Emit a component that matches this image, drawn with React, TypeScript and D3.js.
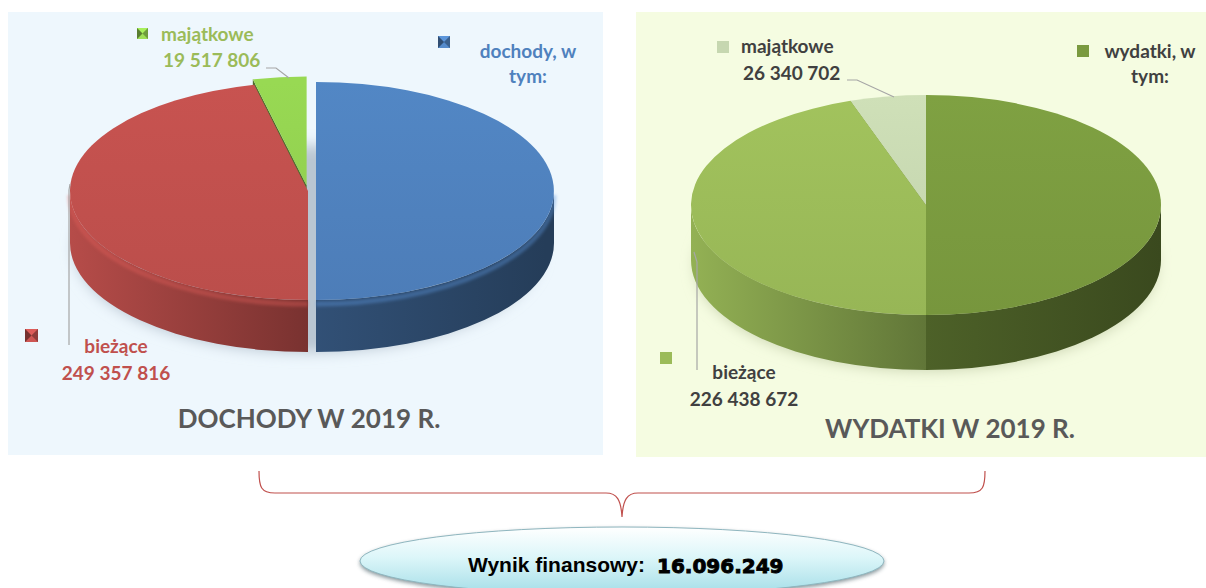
import * as d3 from "d3";

const incomeLabels = ["dochody, w tym:", "bieżące", "majątkowe"];
const incomeValues = [268875622, 249357816, 19517806];
const incomeColors = ["#4f81bd", "#c0504d", "#92d050"];

const expenseLabels = ["wydatki, w tym:", "bieżące", "majątkowe"];
const expenseValues = [252779374, 226438672, 26340702];
const expenseColors = ["#7a9a3f", "#9bbb59", "#c6d7b0"];

const titles = ["DOCHODY W 2019 R.", "WYDATKI W 2019 R."];
const resultLabel = "Wynik finansowy:";
const resultValue = "16.096.249";

const fmt = d3
  .formatLocale({ decimal: ",", thousands: " ", grouping: [3], currency: ["", ""] })
  .format(",d");

const FONT = "Lato, 'Open Sans', sans-serif";

type PieProps = {
  id: string;
  cx: number;
  cy: number;
  rx: number;
  ry: number;
  depth: number;
  values: number[];
  colors: string[];
  explode: number[];
  shadow: string;
  rimHighlight: boolean;
};

function Pie3D({ id, cx, cy, rx, ry, depth, values, colors, explode, shadow, rimHighlight }: PieProps) {
  const arcs = d3.pie<number>().sort(null)(values);
  const k = ry / rx;

  const slices = arcs.map((a, i) => {
    const mid = (a.startAngle + a.endAngle) / 2;
    const ox = explode[i] * Math.sin(mid);
    const oy = -explode[i] * Math.cos(mid) * k;
    const c = cx + ox;
    const m = cy + oy;
    const pt = (t: number, dy = 0) => [c + rx * Math.sin(t), m - ry * Math.cos(t) + dy];
    const a0 = a.startAngle;
    const a1 = a.endAngle;
    const large = a1 - a0 > Math.PI ? 1 : 0;
    const [x0, y0] = pt(a0);
    const [x1, y1] = pt(a1);
    const top = `M${c},${m}L${x0},${y0}A${rx},${ry} 0 ${large} 1 ${x1},${y1}Z`;

    let wall = "";
    let rim = "";
    const s = Math.max(a0, Math.PI / 2);
    const e = Math.min(a1, (3 * Math.PI) / 2);
    if (e > s) {
      const [sx, sy] = pt(s);
      const [ex, ey] = pt(e);
      wall = `M${sx},${sy}A${rx},${ry} 0 0 1 ${ex},${ey}L${ex},${ey + depth}A${rx},${ry} 0 0 0 ${sx},${sy + depth}Z`;
      rim = `M${sx},${sy}A${rx},${ry} 0 0 1 ${ex},${ey}`;
    }

    // radial cut faces that turn towards the viewer
    const cuts: string[] = [];
    const edges = [
      [a0, a0 - Math.PI / 2],
      [a1, a1 + Math.PI / 2],
    ];
    edges.forEach(([t, n]) => {
      if (Math.cos(n) < -1e-6) {
        const [px, py] = pt(t);
        cuts.push(`M${c},${m}L${px},${py}L${px},${py + depth}L${c},${m + depth}Z`);
      }
    });

    return { i, mid, top, wall, rim, cuts, color: colors[i] };
  });

  const order = [...slices].sort((p, q) => -Math.cos(p.mid) - -Math.cos(q.mid));

  return (
    <g>
      <defs>
        <filter id={`${id}-blur`} x="-20%" y="-50%" width="140%" height="200%">
          <feGaussianBlur stdDeviation="7" />
        </filter>
        <filter id={`${id}-soft`} x="-5%" y="-20%" width="110%" height="140%">
          <feGaussianBlur stdDeviation="1.5" />
        </filter>
        {slices.map((sl) => (
          <linearGradient
            key={`sg${sl.i}`}
            id={`${id}-side-${sl.i}`}
            gradientUnits="userSpaceOnUse"
            x1={cx - rx}
            x2={cx + rx}
            y1={0}
            y2={0}
          >
            <stop offset="0" stopColor={d3.color(sl.color)!.darker(0.15).formatHex()} />
            <stop offset="0.5" stopColor={d3.color(sl.color)!.darker(1.3).formatHex()} />
            <stop offset="1" stopColor={d3.color(sl.color)!.darker(2.1).formatHex()} />
          </linearGradient>
        ))}
        {slices.map((sl) => (
          <linearGradient
            key={`tg${sl.i}`}
            id={`${id}-top-${sl.i}`}
            gradientUnits="userSpaceOnUse"
            x1={0}
            x2={0}
            y1={cy - ry}
            y2={cy + ry}
          >
            <stop offset="0" stopColor={d3.color(sl.color)!.brighter(0.12).formatHex()} />
            <stop offset="1" stopColor={d3.color(sl.color)!.darker(0.08).formatHex()} />
          </linearGradient>
        ))}
      </defs>
      <ellipse
        cx={cx}
        cy={cy + depth + 6}
        rx={rx * 0.98}
        ry={ry * 0.95}
        fill={shadow}
        filter={`url(#${id}-blur)`}
      />
      {order.map((sl) => (
        <g key={`side${sl.i}`}>
          {sl.cuts.map((d, j) => (
            <path key={j} d={d} fill={d3.color(sl.color)!.darker(1.8).formatHex()} />
          ))}
          {sl.wall && <path d={sl.wall} fill={`url(#${id}-side-${sl.i})`} />}
          {sl.rim && rimHighlight && (
            <path
              d={sl.rim}
              fill="none"
              stroke={d3.color(sl.color)!.brighter(0.45).formatHex()}
              strokeWidth={5}
              opacity={0.4}
              filter={`url(#${id}-soft)`}
              transform="translate(0,4)"
            />
          )}
        </g>
      ))}
      {order.map((sl) => (
        <path key={`top${sl.i}`} d={sl.top} fill={`url(#${id}-top-${sl.i})`} />
      ))}
    </g>
  );
}

function BevelMarker({ x, y, size, color }: { x: number; y: number; size: number; color: string }) {
  const c = d3.color(color)!;
  const cxm = x + size / 2;
  const cym = y + size / 2;
  return (
    <g>
      <rect x={x} y={y} width={size} height={size} fill={c.formatHex()} />
      <path d={`M${x},${y}L${x + size},${y}L${cxm},${cym}Z`} fill={c.brighter(0.4).formatHex()} />
      <path d={`M${x},${y + size}L${x + size},${y + size}L${cxm},${cym}Z`} fill={c.brighter(0.2).formatHex()} />
      <path d={`M${x},${y}L${x},${y + size}L${cxm},${cym}Z`} fill={c.darker(1.4).formatHex()} />
      <path d={`M${x + size},${y}L${x + size},${y + size}L${cxm},${cym}Z`} fill={c.darker(0.8).formatHex()} />
    </g>
  );
}

function FlatMarker({ x, y, size, color }: { x: number; y: number; size: number; color: string }) {
  return <rect x={x} y={y} width={size} height={size} fill={color} />;
}

export default function App() {
  const [incTotal, incCur, incProp] = incomeLabels;
  const [expTotal, expCur, expProp] = expenseLabels;
  const incTotalWords = incTotal.replace(" tym:", "");
  const expTotalWords = expTotal.replace(" tym:", "");
  const labelStyle = { fontFamily: FONT, fontWeight: 700, fontSize: 19 } as const;

  return (
    <svg
      width={1206}
      height={588}
      viewBox="0 0 1206 588"
      style={{ position: "absolute", left: 0, top: 0, background: "#fff" }}
    >
      <defs>
        <linearGradient id="res-grad" x1="0" x2="0" y1="0" y2="1">
          <stop offset="0" stopColor="#ffffff" />
          <stop offset="0.45" stopColor="#dcf6f9" />
          <stop offset="1" stopColor="#a3dde7" />
        </linearGradient>
        <filter id="res-blur" x="-10%" y="-50%" width="120%" height="200%">
          <feGaussianBlur stdDeviation="2" />
        </filter>
      </defs>

      {/* panels */}
      <rect x={8} y={12} width={595} height={443} fill="#eef7fd" />
      <rect x={636} y={12} width={570} height={445} fill="#f5fce1" />

      {/* income pie */}
      <Pie3D
        id="inc"
        cx={308}
        cy={191}
        rx={238}
        ry={109}
        depth={52}
        values={incomeValues}
        colors={incomeColors}
        explode={[8, 0, 12]}
        shadow="#b9c6d2"
        rimHighlight={true}
      />
      <BevelMarker x={137} y={28} size={11} color={incomeColors[2]} />
      <text x={161} y={41} fill="#9bbb59" {...labelStyle}>{incProp}</text>
      <text x={163} y={67} fill="#9bbb59" {...labelStyle}>{fmt(incomeValues[2])}</text>
      <path d="M266,68L276,68L289,78" fill="none" stroke="#a6a6a6" strokeWidth={1.2} />

      <BevelMarker x={438} y={36} size={12} color={incomeColors[0]} />
      <text x={528} y={58} textAnchor="middle" fill="#4f81bd" {...labelStyle}>{incTotalWords}</text>
      <text x={528} y={83} textAnchor="middle" fill="#4f81bd" {...labelStyle}>tym:</text>

      <BevelMarker x={25} y={329} size={13} color={incomeColors[1]} />
      <path d="M70,184L69,190L69,345" fill="none" stroke="#a6a6a6" strokeWidth={1.2} />
      <text x={116} y={353} textAnchor="middle" fill="#c0504d" {...labelStyle}>{incCur}</text>
      <text x={116} y={380} textAnchor="middle" fill="#c0504d" {...labelStyle}>{fmt(incomeValues[1])}</text>

      <text x={309} y={428} textAnchor="middle" fill="#595959" fontFamily={FONT} fontWeight={700} fontSize={26}>
        {titles[0]}
      </text>

      {/* expense pie */}
      <Pie3D
        id="exp"
        cx={926}
        cy={205}
        rx={235}
        ry={110}
        depth={55}
        values={expenseValues}
        colors={expenseColors}
        explode={[0, 0, 0]}
        shadow="#c9d3b0"
        rimHighlight={false}
      />
      <FlatMarker x={717} y={41} size={12} color={expenseColors[2]} />
      <text x={741} y={53} fill="#404040" {...labelStyle}>{expProp}</text>
      <text x={743} y={80} fill="#404040" {...labelStyle}>{fmt(expenseValues[2])}</text>
      <path d="M847,80L857,80L894,97" fill="none" stroke="#a6a6a6" strokeWidth={1.2} />

      <FlatMarker x={1077} y={45} size={12} color={expenseColors[0]} />
      <text x={1150} y={58} textAnchor="middle" fill="#404040" {...labelStyle}>{expTotalWords}</text>
      <text x={1150} y={83} textAnchor="middle" fill="#404040" {...labelStyle}>tym:</text>

      <FlatMarker x={660} y={352} size={12} color={expenseColors[1]} />
      <path d="M694,252L697,262L697,370" fill="none" stroke="#a6a6a6" strokeWidth={1.2} />
      <text x={744} y={379} textAnchor="middle" fill="#404040" {...labelStyle}>{expCur}</text>
      <text x={744} y={406} textAnchor="middle" fill="#404040" {...labelStyle}>{fmt(expenseValues[1])}</text>

      <text x={950} y={438} textAnchor="middle" fill="#595959" fontFamily={FONT} fontWeight={700} fontSize={26}>
        {titles[1]}
      </text>

      {/* brace */}
      <path
        d="M259,471C259,487 261,493 275,493L606,493C617,493 621,500 622,517C623,500 627,493 638,493L969,493C983,493 985,487 985,471"
        fill="none"
        stroke="#c0504d"
        strokeWidth={1.2}
      />

      {/* result ellipse */}
      <ellipse cx={622} cy={563} rx={262} ry={34} fill="#4a6068" opacity={0.7} filter="url(#res-blur)" />
      <ellipse cx={622} cy={561} rx={262} ry={34} fill="url(#res-grad)" stroke="#8fb6bf" strokeWidth={1} />
      <text
        x={468}
        y={572}
        fill="#000"
        fontFamily="'Liberation Sans Narrow', 'Liberation Sans', Arial, sans-serif"
        fontWeight={700}
        fontSize={21}
      >
        {resultLabel}
      </text>
      <text
        x={657}
        y={573}
        fill="#000"
        stroke="#000"
        strokeWidth={0.9}
        fontFamily="'DejaVu Sans', sans-serif"
        fontWeight={700}
        fontSize={20}
      >
        {resultValue}
      </text>
    </svg>
  );
}
